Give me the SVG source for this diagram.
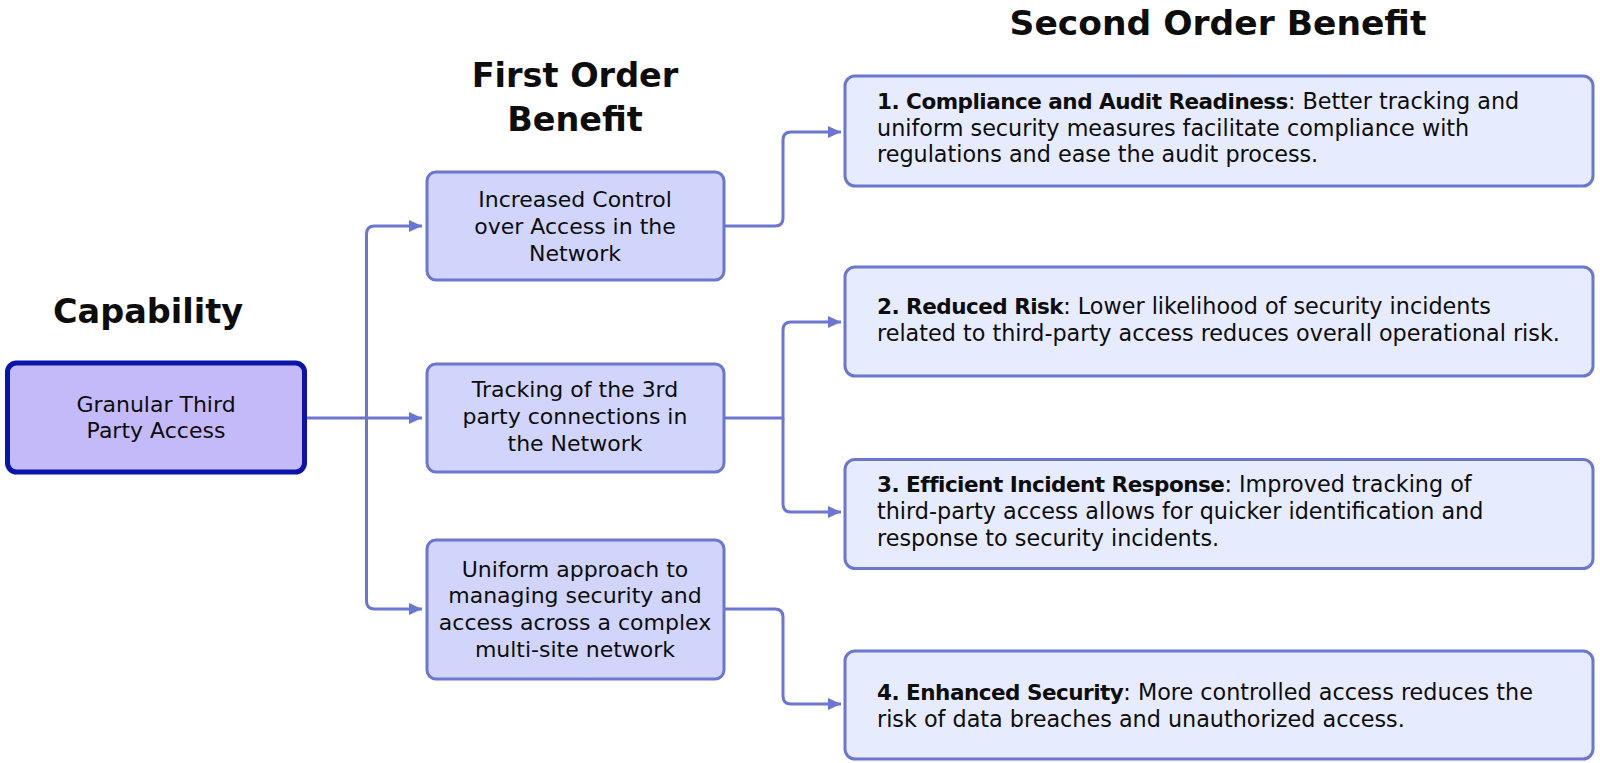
<svg xmlns="http://www.w3.org/2000/svg" width="1600" height="763" viewBox="0 0 1600 763">
<style>
  text { font-family: "DejaVu Sans", "Liberation Sans", sans-serif; fill: #0d0d0d; }
  .title { font-size: 33.5px; font-weight: bold; text-anchor: middle; }
  .t { font-size: 22px; text-anchor: middle; }
  .d { font-size: 22.3px; }
  .b { font-weight: bold; font-size: 21.5px; letter-spacing: -0.5px; }
  .cap { fill: #C4BAF9; stroke: #0A14A8; stroke-width: 5; }
  .l1 { fill: #D1D5FB; stroke: #6B76D0; stroke-width: 3; }
  .l2 { fill: #E6EBFD; stroke: #6B76D0; stroke-width: 3; }
  .c { fill: none; stroke: #6B76D0; stroke-width: 3; }
</style>
<defs>
  <marker id="ah" markerUnits="userSpaceOnUse" markerWidth="14" markerHeight="14" viewBox="0 0 14 14" refX="13" refY="7" orient="auto">
    <path d="M0,1 L13,7 L0,13 Z" fill="#6B76D0"/>
  </marker>
</defs>
<rect width="1600" height="763" fill="#fff"/>

<g id="titles">
  <text class="title" x="148" y="323">Capability</text>
  <text class="title" x="575" y="87">First Order</text>
  <text class="title" x="575" y="131">Benefit</text>
  <text class="title" x="1218" y="35" style="font-size:34.5px">Second Order Benefit</text>
</g>

<g id="connectors">
  <path class="c" d="M305,418 H422" marker-end="url(#ah)"/>
  <path class="c" d="M366.5,418 V234 Q366.5,226 374.5,226 H422" marker-end="url(#ah)"/>
  <path class="c" d="M366.5,418 V601 Q366.5,609 374.5,609 H422" marker-end="url(#ah)"/>
  <path class="c" d="M724,226 H775 Q783,226 783,218 V140 Q783,132 791,132 H841" marker-end="url(#ah)"/>
  <path class="c" d="M724,418 H783 V330 Q783,322 791,322 H841" marker-end="url(#ah)"/>
  <path class="c" d="M783,418 V504 Q783,512 791,512 H841" marker-end="url(#ah)"/>
  <path class="c" d="M724,609 H775 Q783,609 783,617 V696 Q783,704 791,704 H841" marker-end="url(#ah)"/>
</g>

<g id="capability">
  <rect class="cap" x="7.5" y="363" width="297" height="109" rx="9"/>
  <text class="t" x="156" y="412">Granular Third</text>
  <text class="t" x="156" y="438">Party Access</text>
</g>

<g id="fo1">
  <rect class="l1" x="427" y="172" width="297" height="108" rx="9"/>
  <text class="t" x="575" y="207">Increased Control</text>
  <text class="t" x="575" y="234">over Access in the</text>
  <text class="t" x="575" y="261">Network</text>
</g>

<g id="fo2">
  <rect class="l1" x="427" y="364" width="297" height="108" rx="9"/>
  <text class="t" x="575" y="397">Tracking of the 3rd</text>
  <text class="t" x="575" y="424">party connections in</text>
  <text class="t" x="575" y="451">the Network</text>
</g>

<g id="fo3">
  <rect class="l1" x="427" y="540" width="297" height="139" rx="9"/>
  <text class="t" x="575" y="577">Uniform approach to</text>
  <text class="t" x="575" y="603">managing security and</text>
  <text class="t" x="575" y="630">access across a complex</text>
  <text class="t" x="575" y="657">multi-site network</text>
</g>

<g id="so1">
  <rect class="l2" x="845" y="76" width="748" height="110" rx="10"/>
  <text class="d" x="877" y="109"><tspan class="b">1. Compliance and Audit Readiness</tspan>: Better tracking and</text>
  <text class="d" x="877" y="136">uniform security measures facilitate compliance with</text>
  <text class="d" x="877" y="162">regulations and ease the audit process.</text>
</g>

<g id="so2">
  <rect class="l2" x="845" y="267" width="748" height="109" rx="10"/>
  <text class="d" x="877" y="314"><tspan class="b">2. Reduced Risk</tspan>: Lower likelihood of security incidents</text>
  <text class="d" x="877" y="341">related to third-party access reduces overall operational risk.</text>
</g>

<g id="so3">
  <rect class="l2" x="845" y="459.5" width="748" height="109" rx="10"/>
  <text class="d" x="877" y="492"><tspan class="b">3. Efficient Incident Response</tspan>: Improved tracking of</text>
  <text class="d" x="877" y="519">third-party access allows for quicker identification and</text>
  <text class="d" x="877" y="546">response to security incidents.</text>
</g>

<g id="so4">
  <rect class="l2" x="845" y="651" width="748" height="108" rx="10"/>
  <text class="d" x="877" y="700"><tspan class="b">4. Enhanced Security</tspan>: More controlled access reduces the</text>
  <text class="d" x="877" y="727">risk of data breaches and unauthorized access.</text>
</g>
</svg>
